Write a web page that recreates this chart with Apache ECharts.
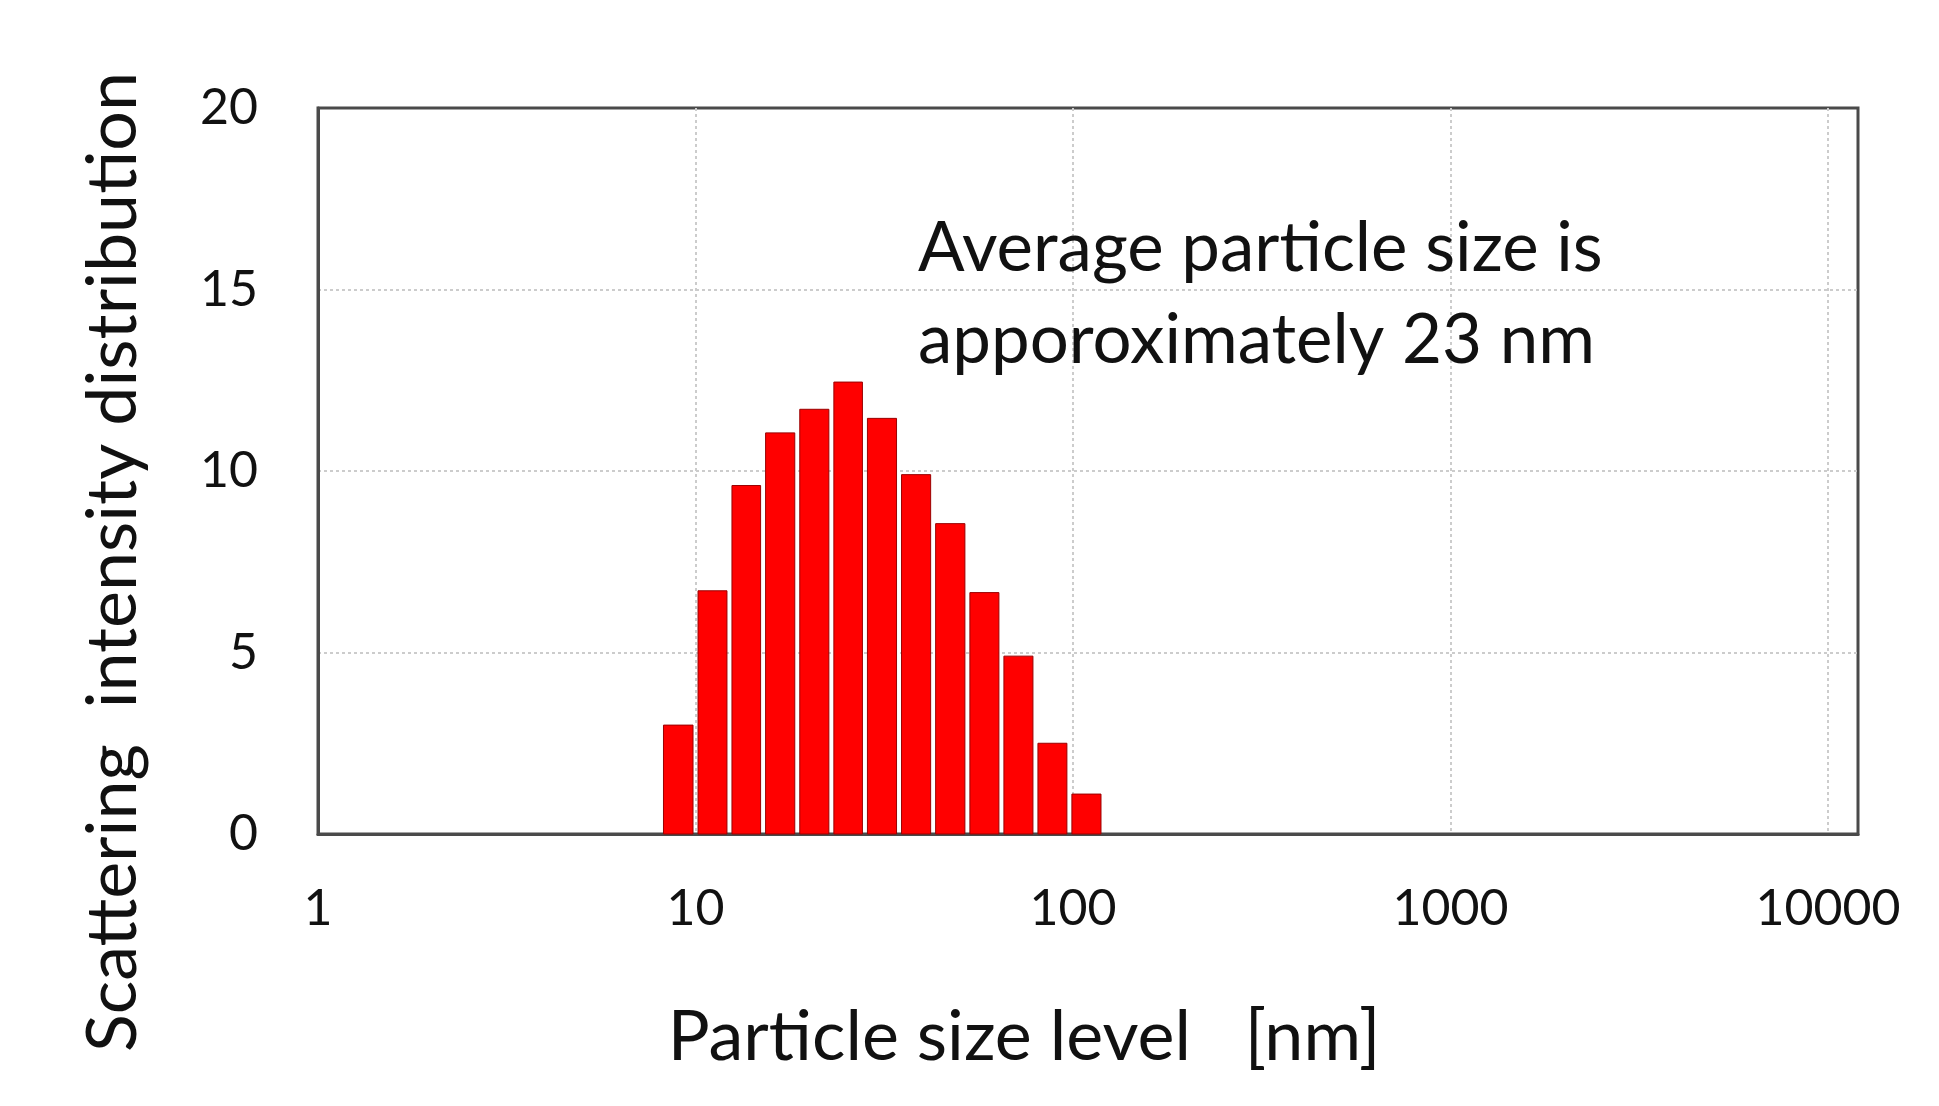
<!DOCTYPE html>
<html>
<head>
<meta charset="utf-8">
<script src="https://cdn.jsdelivr.net/npm/echarts@6/dist/echarts.min.js"></script>
<style>
html,body{margin:0;padding:0;background:#fff;}
#chart{width:1939px;height:1106px;}
</style>
</head>
<body>
<div id="chart"></div>
<script>
// Particle size bin edges [nm] (13 bins -> 14 edges)
const binEdges = [8.1, 10.0, 12.3, 15.1, 18.6, 22.9, 28.1, 34.6, 42.6, 52.5, 64.6, 79.5, 97.8, 120.4];
// Scattering intensity per bin
const intensity = [3.0, 6.7, 9.6, 11.05, 11.7, 12.45, 11.45, 9.9, 8.55, 6.65, 4.9, 2.5, 1.1];
// Axis ticks
const xTicks = [1, 10, 100, 1000, 10000];
const yTicks = [0, 5, 10, 15, 20];
const xTitle = 'Particle size level   [nm]';
const yTitle = 'Scattering  intensity distribution';
const noteLines = ['Average particle size is', 'apporoximately 23 nm'];

const barData = intensity.map((v, i) => [binEdges[i], binEdges[i + 1], v]);

const FONT = 'Lato';
const chart = echarts.init(document.getElementById('chart'));
chart.setOption({
  backgroundColor: '#fff',
  animation: false,
  grid: {
    left: 318, right: 81, top: 108, bottom: 272,
    show: true, borderColor: '#4a4a4a', borderWidth: 3, backgroundColor: 'transparent'
  },
  xAxis: {
    type: 'log', logBase: 10, min: xTicks[0], max: 12000,
    axisLine: { show: true, lineStyle: { color: '#4a4a4a', width: 3 } },
    axisTick: { show: false },
    axisLabel: {
      show: true, showMaxLabel: false, margin: 50,
      fontFamily: FONT, fontSize: 50, color: '#111',
      formatter: v => (xTicks.indexOf(Math.round(v)) >= 0 ? String(Math.round(v)) : '')
    },
    splitLine: { show: true, showMinLine: false, showMaxLine: false,
      lineStyle: { color: '#cccccc', type: [3, 3], width: 2 } },
    name: xTitle, nameLocation: 'middle', nameGap: 168,
    nameTextStyle: { fontFamily: FONT, fontSize: 70, color: '#111', padding: [0, 128, 0, 0] }
  },
  yAxis: {
    type: 'value', min: yTicks[0], max: yTicks[yTicks.length - 1], interval: 5,
    axisLine: { show: true, lineStyle: { color: '#4a4a4a', width: 3 } },
    axisTick: { show: false },
    axisLabel: { margin: 60, fontFamily: FONT, fontSize: 50, color: '#111' },
    splitLine: { show: true, showMinLine: false, showMaxLine: false,
      lineStyle: { color: '#cccccc', type: [3, 3], width: 2 } },
    name: yTitle, nameLocation: 'middle', nameGap: 170, nameRotate: 90,
    nameTextStyle: { fontFamily: FONT, fontSize: 70, color: '#111', padding: [0, 182, 0, 0] }
  },
  graphic: [{
    type: 'text', left: 918, top: 203, z: 10,
    style: {
      text: noteLines.join('\n'), fontFamily: FONT, fontSize: 69, lineHeight: 92, fill: '#111'
    }
  }],
  series: [{
    type: 'custom',
    data: barData,
    encode: { x: [0, 1], y: 2 },
    renderItem: function (params, api) {
      const p0 = api.coord([api.value(0), 0]);
      const p1 = api.coord([api.value(1), api.value(2)]);
      return {
        type: 'rect',
        shape: { x: p0[0] + 2.5, y: p1[1], width: p1[0] - p0[0] - 5, height: p0[1] - p1[1] },
        style: { fill: '#ff0000', stroke: '#9a0000', lineWidth: 1 }
      };
    }
  }]
});
</script>
</body>
</html>
